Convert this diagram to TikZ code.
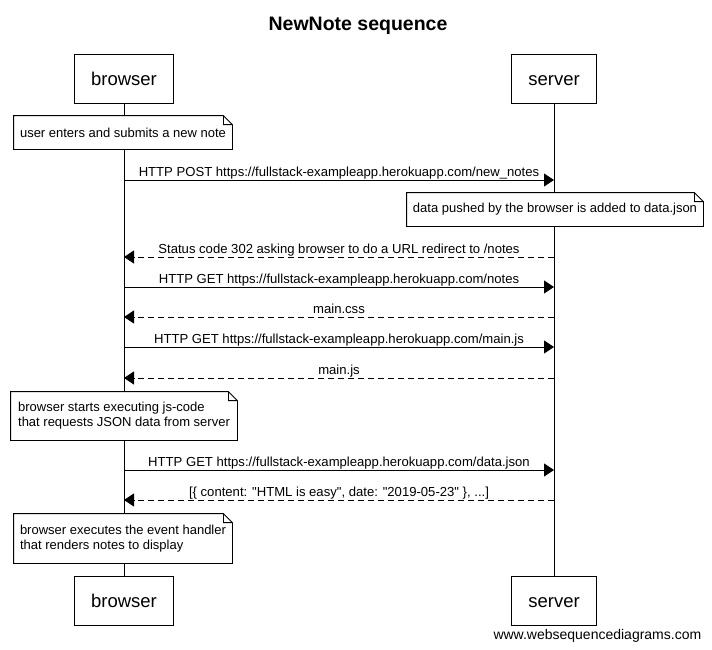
\documentclass[tikz,border=0pt]{standalone}
\usepackage{fontspec}
\setmainfont{Liberation Sans}
\usetikzlibrary{arrows.meta}
\tikzset{>={Triangle[length=10pt,width=13pt]},
  actor/.style={draw,fill=white,minimum height=49pt,inner xsep=16.5pt,
    text height=13.5pt,text depth=0pt,font=\fontsize{18.5}{22}\selectfont},
  note/.style 2 args={fill=white,inner sep=0pt,align=left,
    minimum width=#1,minimum height=#2,font=\fontsize{13}{15}\selectfont},
  msg/.style={anchor=base,yshift=4pt,inner sep=0pt,font=\fontsize{13.1}{15}\selectfont},
  reply/.style={dash pattern=on 6pt off 4pt}}
\newcommand{\qt}{\textquotedbl}

\begin{document}
\begin{tikzpicture}[x=1pt,y=-1pt,line width=0.8pt]
\useasboundingbox (0,0) rectangle (712,649);
\node[anchor=base,font=\bfseries\fontsize{19.5}{22}\selectfont] (title) at (358,30) {NewNote sequence};
% participants
\node[actor] (browsertop) at (124,78.5) {browser};
\node[actor] (servertop) at (554,78.5) {server};
\node[actor] (browserbot) at (124,601) {browser};
\node[actor] (serverbot) at (554,601) {server};
\draw (browsertop) -- (browserbot);
\draw (servertop) -- (serverbot);
% notes
\node[note={218pt}{33pt}] (n1) at (123,132.5) {user enters and submits a new note};
\node[note={296pt}{33pt}] (n2) at (555,209.5) {data pushed by the browser is added to data.json};
\node[note={226pt}{48pt}] (n3) at (124,416) {browser starts executing js-code\\that requests JSON data from server};
\node[note={218pt}{49pt}] (n4) at (123,538.5) {browser executes the event handler\\that renders notes to display};
\foreach \n in {n1,n2,n3,n4}
  \draw (\n.south west) -- (\n.north west) -- ([xshift=-9pt]\n.north east)
    -- ([yshift=-9pt]\n.north east) -- (\n.south east) -- cycle
    ([xshift=-9pt]\n.north east) |- ([yshift=-9pt]\n.north east);
% messages
\coordinate (b1) at (124,180); \coordinate (s1) at (554,180);
\coordinate (b2) at (124,257); \coordinate (s2) at (554,257);
\coordinate (b3) at (124,287); \coordinate (s3) at (554,287);
\coordinate (b4) at (124,317); \coordinate (s4) at (554,317);
\coordinate (b5) at (124,347); \coordinate (s5) at (554,347);
\coordinate (b6) at (124,378); \coordinate (s6) at (554,378);
\coordinate (b7) at (124,470); \coordinate (s7) at (554,470);
\coordinate (b8) at (124,500); \coordinate (s8) at (554,500);
\path[->] (b1) edge node[msg] {HTTP POST https://fullstack-exampleapp.herokuapp.com/new\_notes} (s1);
\path[->] (s2) edge[reply] node[msg] {Status code 302 asking browser to do a URL redirect to /notes} (b2);
\path[->] (b3) edge node[msg] {HTTP GET https://fullstack-exampleapp.herokuapp.com/notes} (s3);
\path[->] (s4) edge[reply] node[msg] {main.css} (b4);
\path[->] (b5) edge node[msg] {HTTP GET https://fullstack-exampleapp.herokuapp.com/main.js} (s5);
\path[->] (s6) edge[reply] node[msg] {main.js} (b6);
\path[->] (b7) edge node[msg] {HTTP GET https://fullstack-exampleapp.herokuapp.com/data.json} (s7);
\path[->] (s8) edge[reply] node[msg] {[\{ content: \qt HTML is easy\qt, date: \qt 2019-05-23\qt{} \}, ...]} (b8);
\node[anchor=base east,font=\fontsize{14}{16}\selectfont] (credit) at (705,639) {www.websequencediagrams.com};
\end{tikzpicture}
\end{document}
